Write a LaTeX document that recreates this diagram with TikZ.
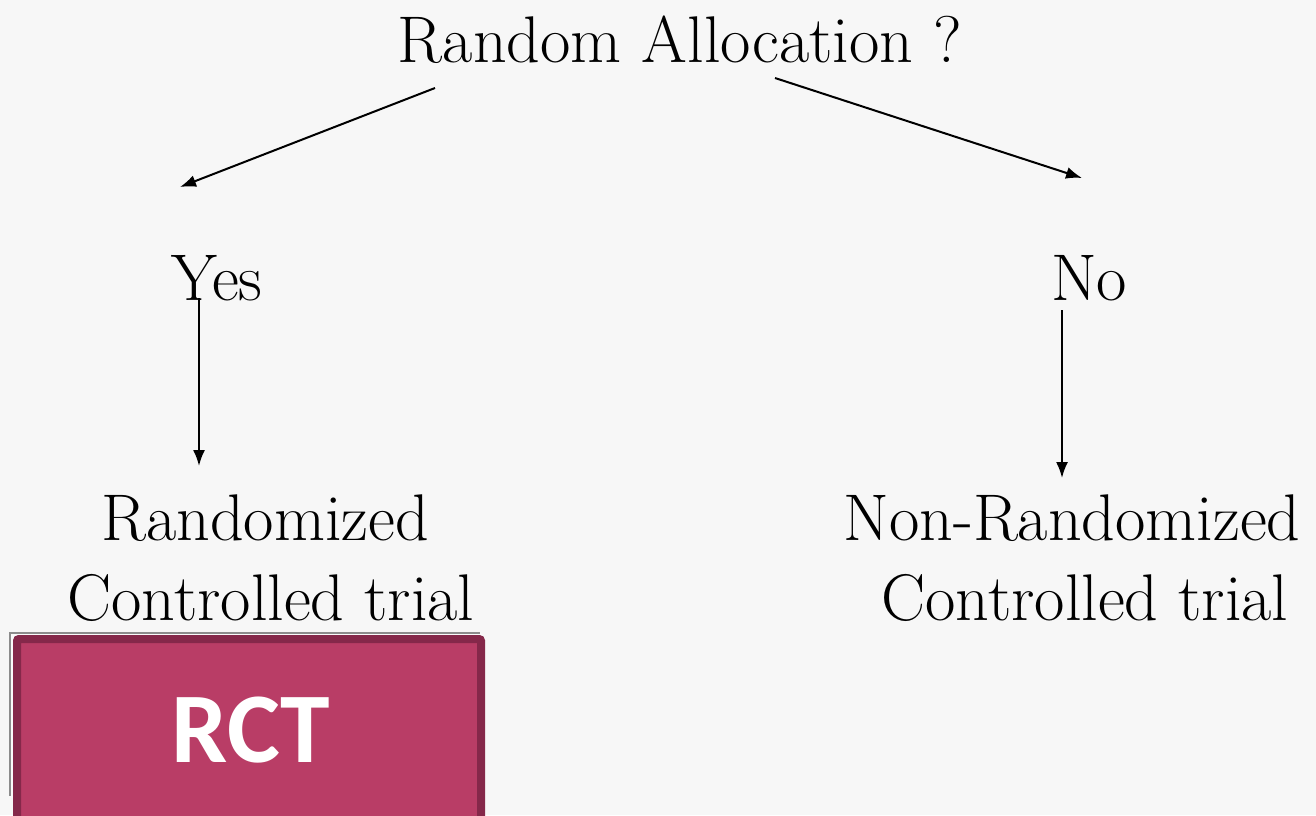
\documentclass[tikz,border=0pt]{standalone}
\usepackage{fontspec}
\newfontfamily\rctfont{Carlito}
\usetikzlibrary{arrows.meta}
\definecolor{bg}{HTML}{F7F7F7}
\definecolor{rctfill}{HTML}{B93D66}
\definecolor{rctborder}{HTML}{85284A}
\tikzset{
  lbl/.style={anchor=base, inner sep=0pt, font=\fontsize{66}{72}\selectfont},
  arr/.style={line width=2pt, -{Latex[length=16pt,width=12pt]}},
}
\begin{document}
\begin{tikzpicture}[x=1pt,y=-1pt]
\fill[bg] (0,0) rectangle (1316,815);
\useasboundingbox (0,0) rectangle (1316,815);
\node[lbl] (top) at (680,62) {Random Allocation ?};
\node[lbl] (yes) at (217,300) {Yes};
\node[lbl] (no) at (1089,300) {No};
\node[lbl] (r1) at (265,540) {Randomized};
\node[lbl] (r2) at (271,620) {Controlled trial};
\node[lbl] (n1) at (1072,540) {Non-Randomized};
\node[lbl] (n2) at (1085,620) {Controlled trial};
\coordinate (a1s) at (435,88);
\coordinate (a1e) at (180,187);
\coordinate (a2s) at (775,78);
\coordinate (a2e) at (1082,178);
\coordinate (a3s) at (199,298);
\coordinate (a3e) at (199,466);
\coordinate (a4s) at (1062,310);
\coordinate (a4e) at (1062,478);
\draw[arr] (a1s) -- (a1e);
\draw[arr] (a2s) -- (a2e);
\draw[arr] (a3s) -- (a3e);
\draw[arr] (a4s) -- (a4e);
\fill[black!45] (9,632) rectangle (480,796);
\fill[bg!60!white] (11,634) rectangle (482,798);
\draw[rctborder, fill=rctfill, line width=8pt, rounded corners=2pt] (17,639) rectangle (481,830);
\node[anchor=base, inner sep=0pt, text=white, font=\rctfont\bfseries\fontsize{100}{110}\selectfont] (rct) at (251,762) {RCT};
\end{tikzpicture}
\end{document}
